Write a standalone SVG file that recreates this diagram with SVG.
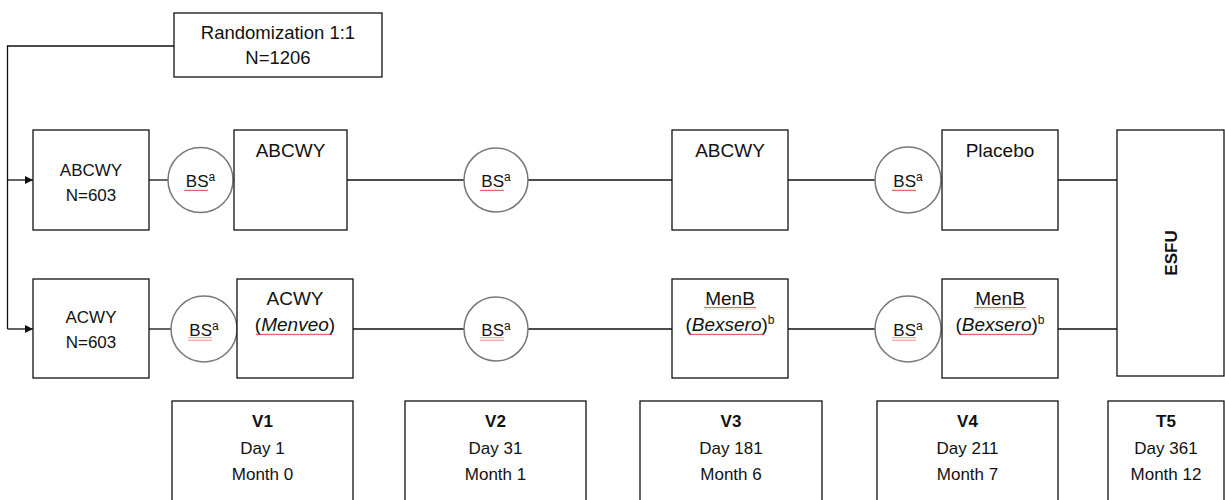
<svg xmlns="http://www.w3.org/2000/svg" width="1225" height="500" viewBox="0 0 1225 500">
<style>
  text { font-family: "Liberation Sans", Arial, sans-serif; fill: #111; text-anchor: middle; }
  .box { fill: #fff; stroke: #111; stroke-width: 1.3; }
  .circ { fill: #fff; stroke: #777; stroke-width: 1.5; }
  .line { fill: none; stroke: #111; stroke-width: 1.3; }
  .s17 { font-size: 17px; }
  .s19 { font-size: 19px; }
  .bs { font-size: 17px; }
  .sup { font-size: 12px; }
  .b { font-weight: bold; }
  .i { font-style: italic; }
  .sq { fill: url(#squig); }
</style>
<defs>
  <marker id="arr" viewBox="0 0 10 10" refX="10" refY="5" markerWidth="8" markerHeight="8" markerUnits="userSpaceOnUse" orient="auto">
    <path d="M0,0 L10,5 L0,10 Z" fill="#111"/>
  </marker>
  <pattern id="squig" patternUnits="userSpaceOnUse" width="4" height="3">
    <path d="M0,2.2 L1,0.8 L2,2.2 L3,0.8 L4,2.2" fill="none" stroke="#e23b3b" stroke-width="0.8"/>
  </pattern>
</defs>

<g id="connectors">
  <polyline class="line" points="174,46 7.5,46 7.5,329"/>
  <line class="line" x1="7.5" y1="180" x2="33" y2="180" marker-end="url(#arr)"/>
  <line class="line" x1="7.5" y1="329" x2="33" y2="329" marker-end="url(#arr)"/>
  <!-- top row -->
  <line class="line" x1="149" y1="180" x2="168" y2="180"/>
  <line class="line" x1="232" y1="180" x2="234" y2="180"/>
  <line class="line" x1="347" y1="180" x2="464" y2="180"/>
  <line class="line" x1="528" y1="180" x2="672" y2="180"/>
  <line class="line" x1="788" y1="180" x2="875" y2="180"/>
  <line class="line" x1="1058" y1="180" x2="1117" y2="180"/>
  <!-- bottom row -->
  <line class="line" x1="149" y1="329" x2="171" y2="329"/>
  <line class="line" x1="353" y1="329" x2="464" y2="329"/>
  <line class="line" x1="528" y1="329" x2="672" y2="329"/>
  <line class="line" x1="788" y1="329" x2="875" y2="329"/>
  <line class="line" x1="1058" y1="329" x2="1117" y2="329"/>
</g>

<g id="randomization">
  <rect class="box" x="174" y="13" width="208" height="64"/>
  <text class="s17" x="278" y="39" style="font-size:18.5px">Randomization 1:1</text>
  <text class="s17" x="278" y="64" style="font-size:18.5px">N=1206</text>
</g>

<g id="arm-abcwy">
  <rect class="box" x="33" y="130" width="116" height="100"/>
  <text class="s17" x="91" y="176">ABCWY</text>
  <text class="s17" x="91" y="201">N=603</text>
</g>
<g id="arm-acwy">
  <rect class="box" x="33" y="279" width="116" height="99"/>
  <text class="s17" x="91" y="323">ACWY</text>
  <text class="s17" x="91" y="348">N=603</text>
</g>

<g id="bs-v1-top">
  <circle class="circ" cx="200.5" cy="180" r="32.5"/>
  <text class="bs" x="200.5" y="187">BS<tspan class="sup" dy="-6">a</tspan></text>
  <rect class="sq" x="184" y="188.5" width="24" height="3"/>
</g>
<g id="bs-v1-bottom">
  <circle class="circ" cx="204" cy="329" r="33"/>
  <text class="bs" x="204" y="336">BS<tspan class="sup" dy="-6">a</tspan></text>
  <rect class="sq" x="188" y="337.5" width="24" height="3"/>
</g>
<g id="bs-v2-top">
  <circle class="circ" cx="496" cy="180" r="32"/>
  <text class="bs" x="496" y="187">BS<tspan class="sup" dy="-6">a</tspan></text>
  <rect class="sq" x="480" y="188.5" width="24" height="3"/>
</g>
<g id="bs-v2-bottom">
  <circle class="circ" cx="496" cy="329" r="32"/>
  <text class="bs" x="496" y="336">BS<tspan class="sup" dy="-6">a</tspan></text>
  <rect class="sq" x="480" y="337.5" width="24" height="3"/>
</g>
<g id="bs-v4-top">
  <circle class="circ" cx="908" cy="180" r="33"/>
  <text class="bs" x="908" y="187">BS<tspan class="sup" dy="-6">a</tspan></text>
  <rect class="sq" x="892" y="188.5" width="24" height="3"/>
</g>
<g id="bs-v4-bottom">
  <circle class="circ" cx="908" cy="329" r="33"/>
  <text class="bs" x="908" y="336">BS<tspan class="sup" dy="-6">a</tspan></text>
  <rect class="sq" x="892" y="337.5" width="24" height="3"/>
</g>

<g id="v1-abcwy">
  <rect class="box" x="234" y="130" width="113" height="100"/>
  <text class="s19" x="290.5" y="157">ABCWY</text>
</g>
<g id="v1-acwy">
  <rect class="box" x="237" y="279" width="116" height="99"/>
  <text class="s19" x="295" y="305">ACWY</text>
  <text class="s19" x="295" y="331">(<tspan class="i">Menveo</tspan>)</text>
  <rect class="sq" x="256" y="333" width="76" height="3"/>
</g>
<g id="v3-abcwy">
  <rect class="box" x="672" y="130" width="116" height="100"/>
  <text class="s19" x="730" y="157">ABCWY</text>
</g>
<g id="v3-menb">
  <rect class="box" x="672" y="279" width="116" height="99"/>
  <text class="s19" x="730" y="305">MenB</text>
  <rect class="sq" x="704" y="307" width="52" height="3"/>
  <text class="s19" x="730" y="331">(<tspan class="i">Bexsero</tspan>)<tspan class="sup" dy="-7">b</tspan></text>
  <rect class="sq" x="690" y="333" width="72" height="3"/>
</g>
<g id="v4-placebo">
  <rect class="box" x="942" y="130" width="116" height="100"/>
  <text class="s19" x="1000" y="157">Placebo</text>
</g>
<g id="v4-menb">
  <rect class="box" x="942" y="279" width="116" height="99"/>
  <text class="s19" x="1000" y="305">MenB</text>
  <rect class="sq" x="974" y="307" width="52" height="3"/>
  <text class="s19" x="1000" y="331">(<tspan class="i">Bexsero</tspan>)<tspan class="sup" dy="-7">b</tspan></text>
  <rect class="sq" x="960" y="333" width="72" height="3"/>
</g>
<g id="esfu">
  <rect class="box" x="1117" y="130" width="107" height="246"/>
  <text class="s17 b" transform="translate(1177,253) rotate(-90)" x="0" y="0">ESFU</text>
</g>

<g id="visit-v1">
  <rect class="box" x="172" y="401" width="181" height="110"/>
  <text class="s17 b" x="262.5" y="427">V1</text>
  <text class="s17" x="262.5" y="454">Day 1</text>
  <text class="s17" x="262.5" y="480">Month 0</text>
</g>
<g id="visit-v2">
  <rect class="box" x="405" y="401" width="181" height="110"/>
  <text class="s17 b" x="495.5" y="427">V2</text>
  <text class="s17" x="495.5" y="454">Day 31</text>
  <text class="s17" x="495.5" y="480">Month 1</text>
</g>
<g id="visit-v3">
  <rect class="box" x="640" y="401" width="182" height="110"/>
  <text class="s17 b" x="731" y="427">V3</text>
  <text class="s17" x="731" y="454">Day 181</text>
  <text class="s17" x="731" y="480">Month 6</text>
</g>
<g id="visit-v4">
  <rect class="box" x="877" y="401" width="181" height="110"/>
  <text class="s17 b" x="967.5" y="427">V4</text>
  <text class="s17" x="967.5" y="454">Day 211</text>
  <text class="s17" x="967.5" y="480">Month 7</text>
</g>
<g id="visit-t5">
  <rect class="box" x="1108" y="401" width="116" height="110"/>
  <text class="s17 b" x="1166" y="427">T5</text>
  <text class="s17" x="1166" y="454">Day 361</text>
  <text class="s17" x="1166" y="480">Month 12</text>
</g>
</svg>
